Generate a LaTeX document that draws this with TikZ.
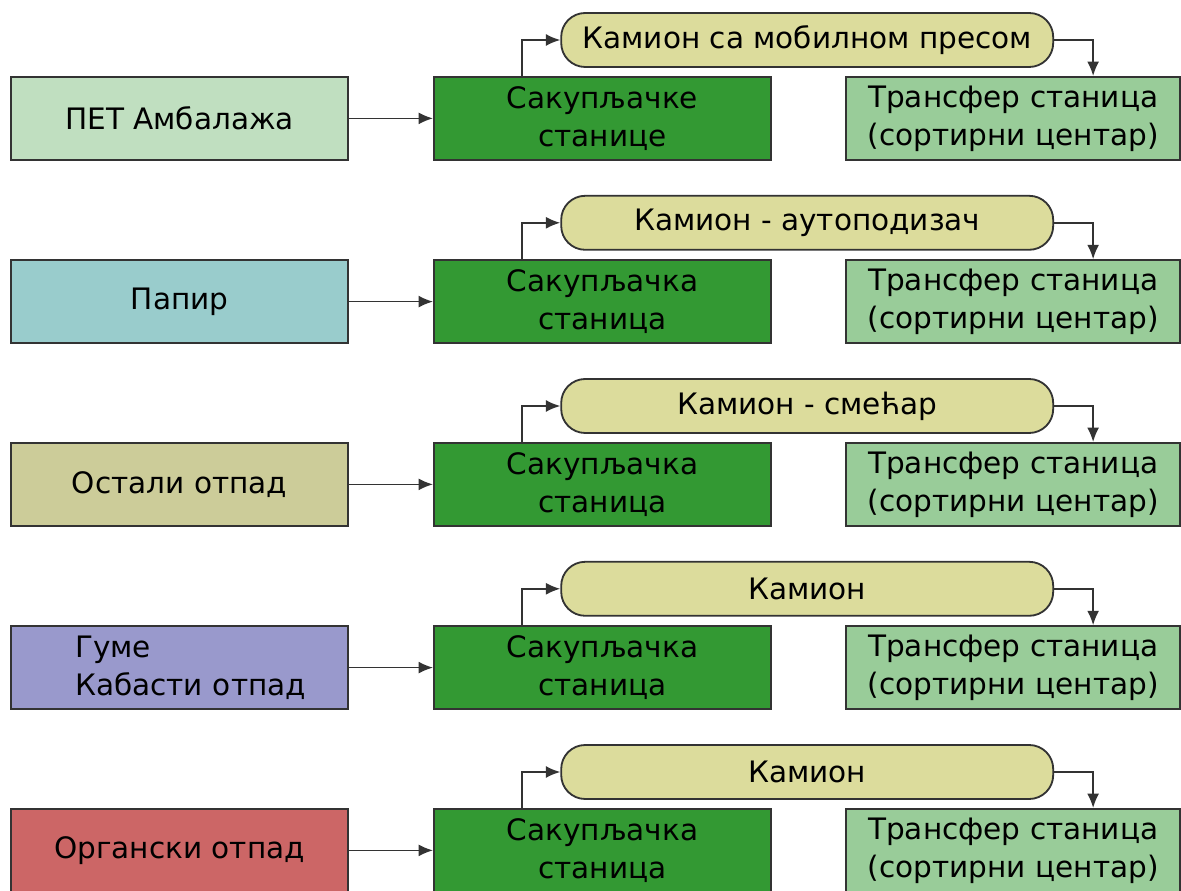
\documentclass[tikz,border=0pt]{standalone}
\usepackage{fontspec}
\setmainfont{DejaVu Sans}
\usepackage{xcolor}
\usepackage{tikz}
\usetikzlibrary{arrows.meta}

\definecolor{petcol}{HTML}{C0DFC0}
\definecolor{papircol}{HTML}{99CCCC}
\definecolor{ostalocol}{HTML}{CCCC99}
\definecolor{gumecol}{HTML}{9999CC}
\definecolor{organcol}{HTML}{CC6666}
\definecolor{sabircol}{HTML}{339933}
\definecolor{transcol}{HTML}{99CC99}
\definecolor{kamioncol}{HTML}{DCDC9C}
\definecolor{ivica}{HTML}{333333}

\begin{document}
\begin{tikzpicture}[
  font=\fontsize{21}{27}\selectfont,
  otpad/.style={draw=ivica,line width=1.3pt,minimum width=8.425cm,minimum height=2.075cm,align=center},
  sabir/.style={draw=ivica,fill=sabircol,line width=1.3pt,minimum width=8.425cm,minimum height=2.075cm,align=center},
  transfer/.style={draw=ivica,fill=transcol,line width=1.3pt,minimum width=8.35cm,minimum height=2.075cm,align=center},
  kamion/.style={draw=ivica,fill=kamioncol,line width=1.3pt,rounded corners=0.6cm,minimum width=12.3cm,minimum height=1.35cm},
  veza/.style={draw=ivica,line width=1.2pt,-{Latex[length=3.6mm,width=3mm]}}
]
\useasboundingbox (0,0) rectangle (29.525,22.25);

% PET
\node[otpad,fill=petcol] at (4.49,19.29) (o1) {ПЕТ Амбалажа};
\node[sabir] at (15.06,19.29) (s1) {Сакупљачке\\станице};
\node[kamion] at (20.18,21.25) (k1) {Камион са мобилном пресом};
\node[transfer] at (25.33,19.29) (t1) {Трансфер станица\\(сортирни центар)};
\draw[veza] (o1) -- (s1);
\draw[veza] ([xshift=2.23cm]s1.north west) |- (k1.west);
\draw[veza] (k1.east) -| ([xshift=-2.2cm]t1.north east);

% papir
\node[otpad,fill=papircol] at (4.49,14.71) (o2) {Папир};
\node[sabir] at (15.06,14.71) (s2) {Сакупљачка\\станица};
\node[kamion] at (20.18,16.68) (k2) {Камион - аутоподизач};
\node[transfer] at (25.33,14.71) (t2) {Трансфер станица\\(сортирни центар)};
\draw[veza] (o2) -- (s2);
\draw[veza] ([xshift=2.23cm]s2.north west) |- (k2.west);
\draw[veza] (k2.east) -| ([xshift=-2.2cm]t2.north east);

% ostalo
\node[otpad,fill=ostalocol] at (4.49,10.14) (o3) {Остали отпад};
\node[sabir] at (15.06,10.14) (s3) {Сакупљачка\\станица};
\node[kamion] at (20.18,12.1) (k3) {Камион - смећар};
\node[transfer] at (25.33,10.14) (t3) {Трансфер станица\\(сортирни центар)};
\draw[veza] (o3) -- (s3);
\draw[veza] ([xshift=2.23cm]s3.north west) |- (k3.west);
\draw[veza] (k3.east) -| ([xshift=-2.2cm]t3.north east);

% gume
\node[otpad,fill=gumecol,align=left,text width=6.825cm,inner xsep=0.8cm] at (4.49,5.56) (o4) {\hspace*{0.8cm}Гуме\\\hspace*{0.8cm}Кабасти отпад};
\node[sabir] at (15.06,5.56) (s4) {Сакупљачка\\станица};
\node[kamion] at (20.18,7.53) (k4) {Камион};
\node[transfer] at (25.33,5.56) (t4) {Трансфер станица\\(сортирни центар)};
\draw[veza] (o4) -- (s4);
\draw[veza] ([xshift=2.23cm]s4.north west) |- (k4.west);
\draw[veza] (k4.east) -| ([xshift=-2.2cm]t4.north east);

% organski
\node[otpad,fill=organcol] at (4.49,0.99) (o5) {Органски отпад};
\node[sabir] at (15.06,0.99) (s5) {Сакупљачка\\станица};
\node[kamion] at (20.18,2.95) (k5) {Камион};
\node[transfer] at (25.33,0.99) (t5) {Трансфер станица\\(сортирни центар)};
\draw[veza] (o5) -- (s5);
\draw[veza] ([xshift=2.23cm]s5.north west) |- (k5.west);
\draw[veza] (k5.east) -| ([xshift=-2.2cm]t5.north east);

\end{tikzpicture}
\end{document}
